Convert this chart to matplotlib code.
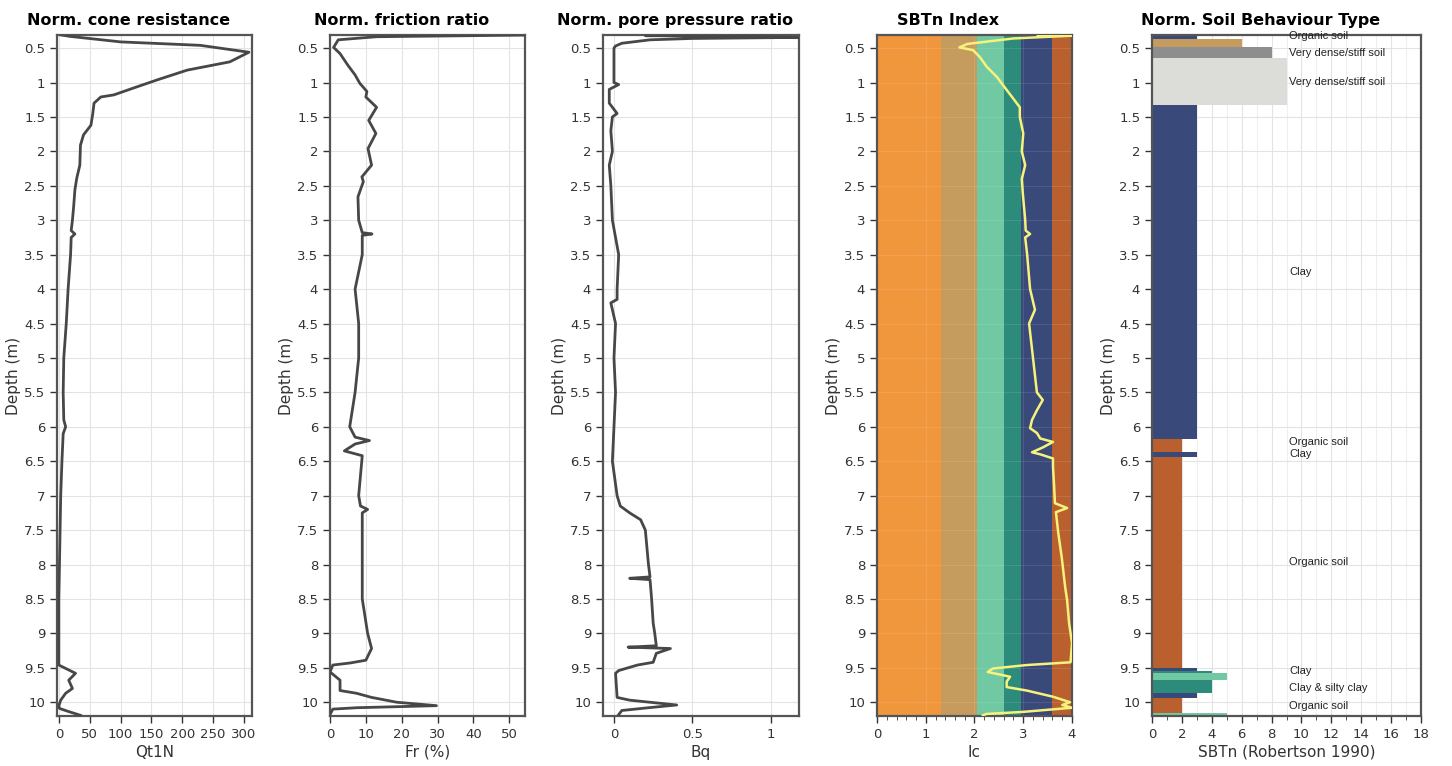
import matplotlib
matplotlib.use("Agg")
import matplotlib.pyplot as plt
from matplotlib import ticker

# ---- data ----
qt_depth = [0.31, 0.33, 0.41, 0.46, 0.56, 0.70, 0.82, 0.96, 1.08, 1.18, 1.21, 1.30, 1.45,
            1.62, 1.76, 1.91, 2.2, 2.39, 2.56, 2.8, 3.0, 3.15, 3.2, 3.25, 3.5, 4.0, 4.5,
            5.0, 5.5, 5.9, 6.0, 6.1, 6.5, 7.0, 7.5, 8.0, 8.5, 9.0, 9.46, 9.58, 9.68,
            9.80, 9.87, 9.97, 10.05, 10.09, 10.13, 10.19]
qt_vals = [4, 18, 100, 229, 308, 277, 208, 160, 121, 89, 68, 57, 55,
           52, 40, 35, 34, 29, 26, 24, 22, 20, 26, 20, 19, 15, 12,
           8, 7, 8, 11, 7, 5, 3, 2, 1, 0, 0, 0, 27, 16,
           22, 11, 3, 0, 1, 14, 35]

fr_depth = [0.31, 0.335, 0.38, 0.49, 0.58, 0.75, 0.89, 1.01, 1.13, 1.21, 1.36, 1.55, 1.74,
            1.96, 2.2, 2.37, 2.44, 2.66, 3.0, 3.18, 3.2, 3.22, 3.5, 4.0, 4.5, 5.0, 5.5,
            6.0, 6.15, 6.2, 6.25, 6.35, 6.42, 7.0, 7.15, 7.2, 7.25, 7.5, 8.0, 8.5, 9.0,
            9.22, 9.39, 9.43, 9.46, 9.56, 9.68, 9.83, 9.87, 9.93, 10.0, 10.05, 10.08,
            10.1, 10.18]
fr_vals = [56, 13, 2.3, 1, 2.8, 5, 7, 8.3, 10.3, 10, 13, 10.8, 12.8,
           10.6, 11.6, 8.9, 9.3, 7.8, 8, 9, 11.7, 9, 9, 7, 8, 8, 7,
           5.5, 7, 11, 7, 4, 9, 8, 8.5, 10.5, 9, 9, 9, 9, 10.5,
           11.6, 10, 5.6, 0.8, 0, 2.8, 2.8, 7.4, 11.6, 18.6, 29.7, 7.4,
           0.8, 0]

bq_depth = [0.31, 0.32, 0.33, 0.345, 0.36, 0.38, 0.43, 0.47, 0.5, 1.0, 1.03, 1.1, 1.3,
            1.45, 1.5, 1.7, 2.0, 2.2, 2.5, 3.0, 3.5, 4.0, 4.15, 4.2, 4.5, 5.0, 5.5,
            6.0, 6.5, 7.0, 7.15, 7.25, 7.35, 7.5, 8.0, 8.18, 8.2, 8.22, 8.5, 8.85, 9.0,
            9.18, 9.2, 9.22, 9.29, 9.42, 9.46, 9.54, 9.58, 9.93, 9.97, 10.04, 10.08,
            10.12, 10.18]
bq_vals = [0.85, 0.2, 0.9, 1.18, 0.5, 0.23, 0.05, 0.01, 0.0, 0.0, 0.03, -0.03, -0.03,
           0.02, -0.01, -0.02, -0.01, -0.03, -0.02, -0.01, 0.03, 0.02, 0.02, -0.02, 0.01, 0.0, 0.01,
           0.0, -0.01, 0.02, 0.04, 0.1, 0.17, 0.2, 0.22, 0.23, 0.1, 0.23, 0.24, 0.25, 0.26,
           0.27, 0.09, 0.36, 0.27, 0.25, 0.15, 0.03, 0.01, 0.02, 0.1, 0.4, 0.22,
           0.05, 0.03]

ic_depth = [0.31, 0.32, 0.36, 0.44, 0.49, 0.53, 0.63, 0.77, 0.92, 1.08, 1.21, 1.36, 1.5,
            1.74, 2.0, 2.2, 2.4, 2.6, 3.0, 3.15, 3.2, 3.25, 3.5, 4.0, 4.3, 4.5, 5.0,
            5.5, 5.61, 5.76, 5.9, 6.02, 6.09, 6.17, 6.22, 6.3, 6.37, 6.4, 6.46, 6.58,
            6.82, 7.11, 7.18, 7.24, 7.55, 7.9, 8.33, 8.52, 8.85, 9.14, 9.42, 9.46, 9.51,
            9.56, 9.63, 9.7, 9.78, 9.83, 9.92, 10.0, 10.04, 10.08, 10.14, 10.17, 10.19]
ic_vals = [3.3, 4.0, 2.8, 1.85, 1.69, 1.97, 2.11, 2.25, 2.46, 2.63, 2.77, 2.93, 2.93,
           3.0, 2.97, 3.04, 2.97, 2.99, 3.04, 3.05, 3.14, 3.04, 3.08, 3.14, 3.24, 3.12, 3.2,
           3.28, 3.4, 3.28, 3.18, 3.14, 3.28, 3.35, 3.61, 3.4, 3.18, 3.35, 3.61, 3.61,
           3.63, 3.65, 3.9, 3.67, 3.72, 3.79, 3.86, 3.9, 3.94, 4.0, 3.97, 3.07, 2.38,
           2.27, 2.73, 2.66, 2.66, 3.07, 3.61, 3.96, 3.8, 4.0, 3.0, 2.25, 2.17]

# Ic zone boundaries and the SBTn zone each band maps to
ic_bounds = [0, 1.31, 2.05, 2.6, 2.95, 3.6, 4.0]
ic_zones = [7, 6, 5, 4, 3, 2]

# SBTn layers: top depth, bottom depth, zone number (bar length = zone)
layer_top = [0.31, 0.37, 0.48, 0.65, 1.33, 6.18, 6.37, 6.44, 9.51, 9.55, 9.57, 9.68, 9.87, 9.94, 10.16, 10.18]
layer_bot = [0.37, 0.48, 0.65, 1.33, 6.18, 6.37, 6.44, 9.51, 9.55, 9.57, 9.68, 9.87, 9.94, 10.16, 10.18, 10.2]
layer_zone = [3, 6, 8, 9, 3, 2, 3, 2, 3, 4, 5, 4, 3, 2, 5, 3]

label_depth = [0.33, 0.57, 0.99, 3.75, 6.22, 6.40, 7.97, 9.54, 9.80, 10.06]
label_text = ["Organic soil", "Very dense/stiff soil", "Very dense/stiff soil", "Clay",
              "Organic soil", "Clay", "Organic soil", "Clay", "Clay & silty clay", "Organic soil"]

zone_colors = {2: "#B9602E", 3: "#394A7A", 4: "#2C8B7B", 5: "#70C9A3",
               6: "#C59B5E", 7: "#F0963C", 8: "#8E8E8E", 9: "#DCDCD8"}

LINE = "#474747"
TXT = "#333333"
GRID = "#e3e3e3"
plt.rcParams["font.family"] = ["DejaVu Sans"]

fig = plt.figure(figsize=(14.52, 7.66), dpi=100)
y0, h = 1 - 716 / 766, 681 / 766
lefts = [57, 330, 603, 877, 1152]
widths = [195, 195, 196, 195, 269]
axes = [fig.add_axes([l / 1452, y0, w / 1452, h]) for l, w in zip(lefts, widths)]

titles = ["Norm. cone resistance", "Norm. friction ratio", "Norm. pore pressure ratio",
          "SBTn Index", "Norm. Soil Behaviour Type"]
xlabels = ["Qt1N", "Fr (%)", "Bq", "Ic", "SBTn (Robertson 1990)"]

for ax, t, xl, w in zip(axes, titles, xlabels, widths):
    ax.set_ylim(10.2, 0.31)
    ax.yaxis.set_major_locator(ticker.MultipleLocator(0.5))
    ax.yaxis.set_major_formatter(ticker.FuncFormatter(lambda v, p: f"{v:g}"))
    ax.set_ylabel("Depth (m)", fontsize=11, color=TXT, labelpad=2)
    ax.set_xlabel(xl, fontsize=11, color=TXT, labelpad=3)
    ax.set_title(t, fontsize=11.5, fontweight="bold", x=0.5 - 26 / w, pad=7)
    ax.set_axisbelow(True)
    ax.grid(True, color=GRID, lw=0.8)
    ax.tick_params(labelsize=9.5, colors=TXT, length=5, width=1, direction="out")
    for s in ax.spines.values():
        s.set_color("#555555")
        s.set_linewidth(1.6)

# cone resistance
ax = axes[0]
ax.plot(qt_vals, qt_depth, color=LINE, lw=2, zorder=3)
ax.set_xlim(-3, 313)
ax.xaxis.set_major_locator(ticker.MultipleLocator(50))

# friction ratio
ax = axes[1]
ax.plot(fr_vals, fr_depth, color=LINE, lw=2, zorder=3)
ax.set_xlim(0, 54.4)
ax.xaxis.set_major_locator(ticker.MultipleLocator(10))

# pore pressure ratio
ax = axes[2]
ax.plot(bq_vals, bq_depth, color=LINE, lw=2, zorder=3)
ax.set_xlim(-0.07, 1.18)
ax.set_xticks([0, 0.5, 1])
ax.xaxis.set_major_formatter(ticker.FuncFormatter(lambda v, p: f"{v:g}"))

# Ic with zone bands
ax = axes[3]
for a, b, z in zip(ic_bounds[:-1], ic_bounds[1:], ic_zones):
    ax.axvspan(a, b, color=zone_colors[z], lw=0, zorder=0)
ax.grid(True, color="#ffffff", alpha=0.1, lw=0.8)
ax.plot(ic_vals, ic_depth, color="#F6F27C", lw=1.8, zorder=3)
ax.set_xlim(0, 4)
ax.xaxis.set_major_locator(ticker.MultipleLocator(1))
ax.xaxis.set_minor_locator(ticker.MultipleLocator(0.2))
ax.tick_params(which="minor", length=3, colors=TXT)

# SBTn layers
ax = axes[4]
for top, bot, z in zip(layer_top, layer_bot, layer_zone):
    ax.barh(top, z, height=bot - top, left=0, align="edge",
            color=zone_colors[z], lw=0, zorder=2)
for d, s in zip(label_depth, label_text):
    ax.text(9.2, d, s, fontsize=8, color="#222222", va="center", ha="left",
            family=["Liberation Sans Narrow", "Liberation Sans"], zorder=4)
ax.set_xlim(0, 18)
ax.xaxis.set_major_locator(ticker.MultipleLocator(2))
ax.xaxis.set_minor_locator(ticker.MultipleLocator(1))
ax.tick_params(which="minor", length=3, colors=TXT)
ax.grid(True, which="minor", axis="x", color="#efefef", lw=0.8)
ax.set_ylim(10.2, 0.31)

fig.savefig("out.png", dpi=100)
